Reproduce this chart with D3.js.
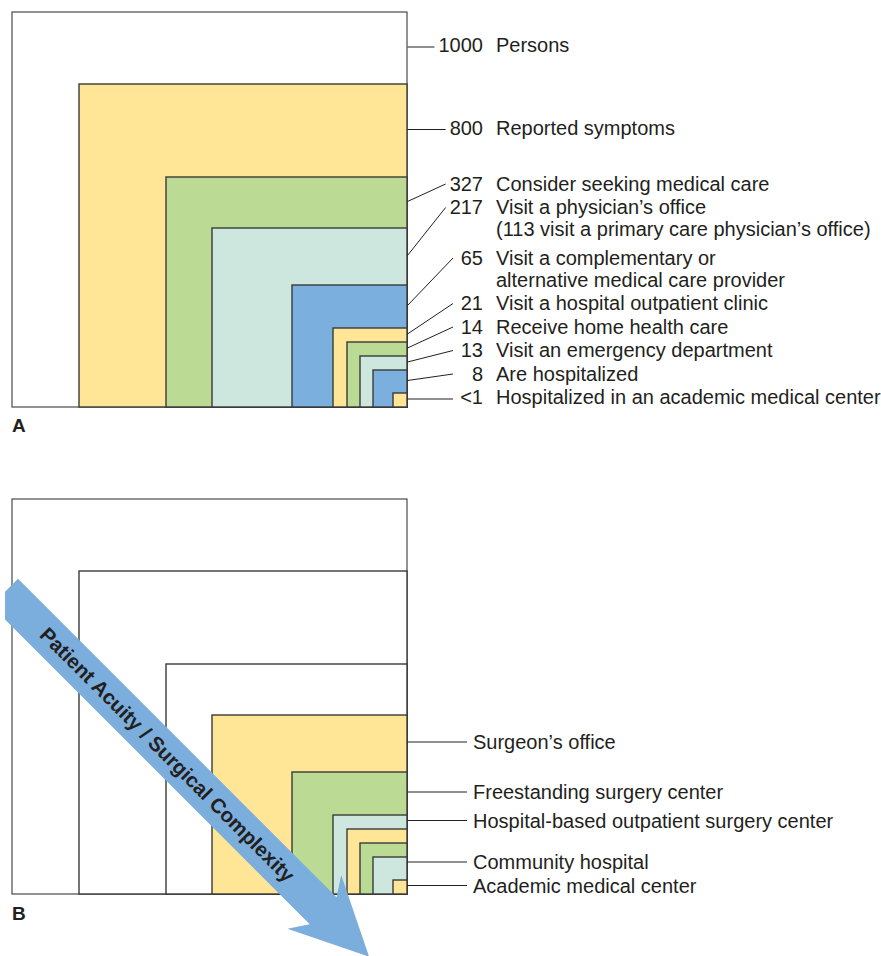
<!DOCTYPE html>
<html>
<head>
<meta charset="utf-8">
<script src="https://cdn.jsdelivr.net/npm/d3@7"></script>
<style>
  body { margin: 0; background: #fff; }
  svg { display: block; }
  text { font-family: "Liberation Sans", Arial, Helvetica, sans-serif; fill: #231f20; }
</style>
</head>
<body>
<svg id="chart" width="881" height="956"></svg>
<script>
// ---------------- DATA ----------------
const valuesA = [1000, 800, 327, 217, 65, 21, 14, 13, 8, 0.5];
const valueLabelsA = ["1000", "800", "327", "217", "65", "21", "14", "13", "8", "<1"];
const labelsA = [
  ["Persons"],
  ["Reported symptoms"],
  ["Consider seeking medical care"],
  ["Visit a physician’s office", "(113 visit a primary care physician’s office)"],
  ["Visit a complementary or", "alternative medical care provider"],
  ["Visit a hospital outpatient clinic"],
  ["Receive home health care"],
  ["Visit an emergency department"],
  ["Are hospitalized"],
  ["Hospitalized in an academic medical center"]
];
const settingsB = ["Surgeon’s office", "Freestanding surgery center", "Hospital-based outpatient surgery center", "Community hospital", "Academic medical center"];
const settingLevelsB = [3, 4, 5, 8, 9];
const panelLetters = ["A", "B"];
const arrowLabel = "Patient Acuity / Surgical Complexity";

// ---------------- STYLE ----------------
const YELLOW = "#FFE596", GREEN = "#BBDA94", TEAL = "#CEE7DE", BLUE = "#7BAFDD", WHITE = "#FFFFFF";
const fillsA = [WHITE, YELLOW, GREEN, TEAL, BLUE, YELLOW, GREEN, TEAL, BLUE, YELLOW];
const fillsB = [WHITE, WHITE, WHITE, YELLOW, GREEN, TEAL, YELLOW, GREEN, TEAL, YELLOW];
const INK = "#231f20";
const FS = 20;

// ---------------- LAYOUT ----------------
const frameRight = 407;
const panelBottoms = [407, 894];
// schematic (non-proportional) side lengths of the nested boxes
const sideW = d3.scaleLinear().domain(valuesA).range([395, 328, 241, 195, 115, 74, 60, 47, 34, 14]);
const sideH = d3.scaleLinear().domain(valuesA).range([395, 323, 230, 179, 122, 79, 65, 51, 37, 14]);

const svg = d3.select("#chart");

function levelsFor(bottom) {
  const lv = valuesA.map((v, i) => ({
    i, v,
    x: frameRight - sideW(v),
    y: bottom - sideH(v),
    w: sideW(v),
    h: sideH(v)
  }));
  lv.forEach((d, i) => {
    const next = i < lv.length - 1 ? lv[i + 1].y : bottom;
    d.mid = (d.y + next) / 2;
  });
  return lv;
}

function drawBoxes(g, levels, fills) {
  g.selectAll("rect.box").data(levels).join("rect")
    .attr("class", "box")
    .attr("x", d => d.x).attr("y", d => d.y)
    .attr("width", d => d.w).attr("height", d => d.h)
    .attr("fill", d => fills[d.i])
    .attr("stroke", "#3a3a3a")
    .attr("stroke-width", d => d.i === 0 ? 1.1 : 1.4);
}

// bottom-up dodge of label blocks
function dodge(items, gap, lineH, extra) {
  let below = null;
  for (let k = items.length - 1; k >= 0; k--) {
    const it = items[k];
    const n = it.lines.length;
    let lim = Infinity;
    if (below) {
      const g2 = gap + (n > 1 && below.lines.length > 1 ? extra : 0);
      lim = below.c - g2 - (n - 1) * lineH;
    }
    it.c = Math.min(it.target, lim);
    below = it;
  }
}

// ---------- Panel A ----------
(function () {
  const bottom = panelBottoms[0];
  const g = svg.append("g");
  const levels = levelsFor(bottom);
  drawBoxes(g, levels, fillsA);

  const items = levels.map(d => ({
    i: d.i,
    hit: d.mid - 1,
    target: d.mid - 3,
    num: valueLabelsA[d.i],
    lines: labelsA[d.i]
  }));
  dodge(items, 23.5, 22, 5);

  const numRight = 483, labelX = 496;
  const lab = g.selectAll("g.lab").data(items).join("g").attr("class", "lab");
  lab.append("text")
    .attr("x", numRight).attr("y", d => d.c + 0.35 * FS)
    .attr("text-anchor", "end").style("font-size", FS + "px")
    .text(d => d.num);
  lab.each(function (d) {
    const t = d3.select(this).select("text").node();
    d.numStart = numRight - t.getComputedTextLength();
  });
  lab.selectAll("text.line").data(d => d.lines.map((s, j) => ({ s, y: d.c + j * 22 + 0.35 * FS })))
    .join("text").attr("class", "line")
    .attr("x", labelX).attr("y", d => d.y)
    .style("font-size", FS + "px")
    .text(d => d.s);
  lab.append("line")
    .attr("x1", frameRight + 0.5).attr("y1", d => d.hit)
    .attr("x2", d => Math.min(d.numStart - 4, 453))
    .attr("y2", d => (d.c < d.target - 0.5) ? d.c + 0.5 : d.hit)
    .attr("stroke", INK).attr("stroke-width", 1);

  svg.append("text").attr("x", 12).attr("y", 432)
    .style("font-size", "19px").style("font-weight", "bold")
    .text(panelLetters[0]);
})();

// ---------- Panel B ----------
(function () {
  const bottom = panelBottoms[1];
  const g = svg.append("g");
  const levels = levelsFor(bottom);
  drawBoxes(g, levels, fillsB);

  const items = settingsB.map((s, k) => ({
    lines: [s],
    target: levels[settingLevelsB[k]].mid - 1.5
  }));
  dodge(items, 23.5, 22, 0);

  const lab = g.selectAll("g.lab").data(items).join("g").attr("class", "lab");
  lab.append("line")
    .attr("x1", frameRight + 0.5).attr("x2", 467)
    .attr("y1", d => d.c).attr("y2", d => d.c)
    .attr("stroke", INK).attr("stroke-width", 1);
  lab.append("text")
    .attr("x", 473).attr("y", d => d.c + 0.35 * FS)
    .style("font-size", FS + "px")
    .text(d => d.lines[0]);

  // arrow
  const defs = svg.append("defs");
  defs.append("clipPath").attr("id", "arrowClip")
    .append("rect").attr("x", 5).attr("y", 0).attr("width", 876).attr("height", 956);
  const half = 19, barb = 38, uTail = 422, uJoin = 872.5, uBarb = 860, uTip = 937.5;
  const arrowPts = [[uTail, -half], [uJoin, -half], [uBarb, -barb], [uTip, 0], [uBarb, barb], [uJoin, half], [uTail, half]];
  const ag = svg.append("g").attr("clip-path", "url(#arrowClip)")
    .append("g").attr("transform", "translate(-293.8,293.8) rotate(45)");
  ag.append("path")
    .attr("d", d3.line()(arrowPts) + "Z")
    .attr("fill", "#7BAEDC");
  ag.append("text")
    .attr("x", 652).attr("y", 7)
    .attr("text-anchor", "middle")
    .style("font-size", "20.5px").style("font-weight", "bold")
    .text(arrowLabel);

  svg.append("text").attr("x", 12).attr("y", 919.5)
    .style("font-size", "19px").style("font-weight", "bold")
    .text(panelLetters[1]);
})();
</script>
</body>
</html>
